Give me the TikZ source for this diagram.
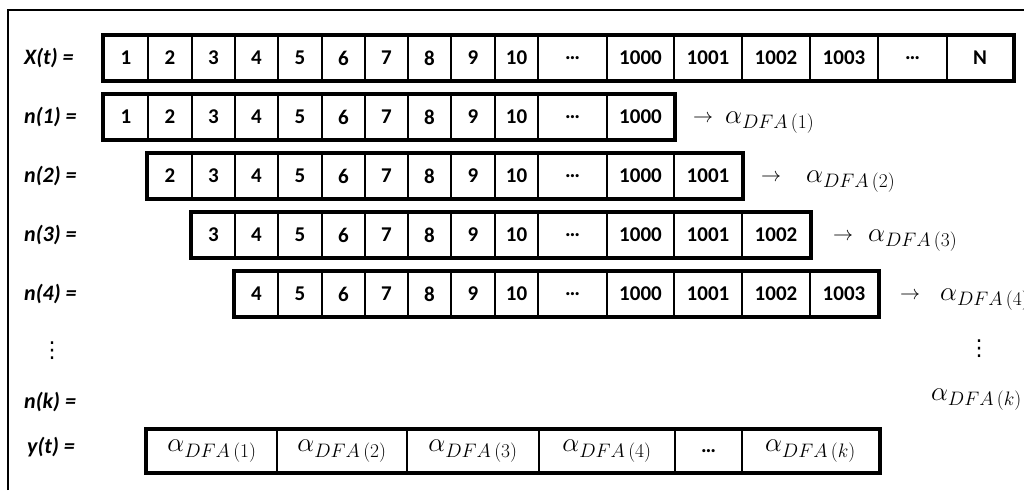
\RequirePackage{fix-cm}
\documentclass[tikz,border=0pt]{standalone}
\usepackage[no-math]{fontspec}
\setmainfont{Carlito}
\newfontfamily\djv{DejaVu Sans}
\DeclareMathSizes{27}{27}{19.5}{14}
\newcommand\adfa[1]{{\fontsize{27}{30}\selectfont$\alpha_{DFA\,(#1)}$}}
\tikzset{
  cell/.style={draw, line width=1.2pt, minimum height=44pt, inner sep=0pt,
    font=\fontsize{21}{24}\selectfont\bfseries},
  rowbox/.style={draw, line width=4pt},
  lab/.style={anchor=west, inner sep=0pt, font=\fontsize{22}{26}\selectfont\bfseries\itshape},
  arr/.style={inner sep=0pt, font=\fontsize{20}{22}\selectfont},
  alf/.style={inner sep=0pt, anchor=base west},
  vdot/.style={inner sep=0pt, font=\fontsize{22}{24}\selectfont\djv},
  frame/.style={line width=1.6pt},
}
\newcommand\cellrow[4]{%
  \foreach \xa/\xb/\ct [count=\i] in {104/148/1,148/192/2,192/235/3,235/278/4,278/322/5,322/365/6,365/408/7,408/451/8,451/495/9,495/538/10,538/607/…,607/674/1000,674/742/1001,742/810/1002,810/878/1003,878/947/…,947/1013/N}{%
    \ifnum\i<#3\relax\else\ifnum\i>#4\relax\else
      \pgfmathsetmacro\w{\xb-\xa}%
      \node[cell, minimum width=\w pt] (#1-\i) at ({(\xa+\xb)/2},#2) {\ct};
    \fi\fi
  }
  \draw[rowbox] (#1-#3.north west) rectangle (#1-#4.south east);
}
\begin{document}
\begin{tikzpicture}[x=1pt,y=-1pt]
\useasboundingbox (0,0) rectangle (1024,490);
\fill[white] (0,0) rectangle (1024,490);
% frame
\draw[frame] (8,490) -- (8,10) -- (1024,10);
% labels
\node[lab] (lX) at (24,58) {X(t) =};
\node[lab] (l1) at (24,117) {n(1) =};
\node[lab] (l2) at (24,176) {n(2) =};
\node[lab] (l3) at (24,235) {n(3) =};
\node[lab] (l4) at (24,294) {n(4) =};
\node[vdot] (dl) at (52,351) {⋮};
\node[lab] (lk) at (24,402) {n(k) =};
\node[lab] (ly) at (27,447) {y(t) =};
% rows
\cellrow{X}{58}{1}{17}
\cellrow{A}{117}{1}{12}
\cellrow{B}{176}{2}{13}
\cellrow{C}{235}{3}{14}
\cellrow{D}{294}{4}{15}
% arrows and alphas
\node[arr] (a1) at (703,119) {$\rightarrow$};
\node[alf] (f1) at (725,123) {\adfa{1}};
\node[arr] (a2) at (771,178) {$\rightarrow$};
\node[alf] (f2) at (806,182) {\adfa{2}};
\node[arr] (a3) at (843,237) {$\rightarrow$};
\node[alf] (f3) at (868,241) {\adfa{3}};
\node[arr] (a4) at (910,296) {$\rightarrow$};
\node[alf] (f4) at (940,300) {\adfa{4}};
\node[vdot] (dr) at (979,349) {⋮};
\node[inner sep=0pt, anchor=base east] (fk) at (1022,400) {\adfa{k}};
% y(t) row
\foreach \xa/\xb/\ct [count=\i] in {147/277/\adfa{1},277/407/\adfa{2},407/539/\adfa{3},539/675/\adfa{4},675/742/…,742/879/\adfa{k}}{%
  \pgfmathsetmacro\w{\xb-\xa}%
  \node[cell, minimum width=\w pt, minimum height=42pt] (Y-\i) at ({(\xa+\xb)/2},451) {\ct};
}
\draw[rowbox] (Y-1.north west) rectangle (Y-6.south east);
\end{tikzpicture}
\end{document}
